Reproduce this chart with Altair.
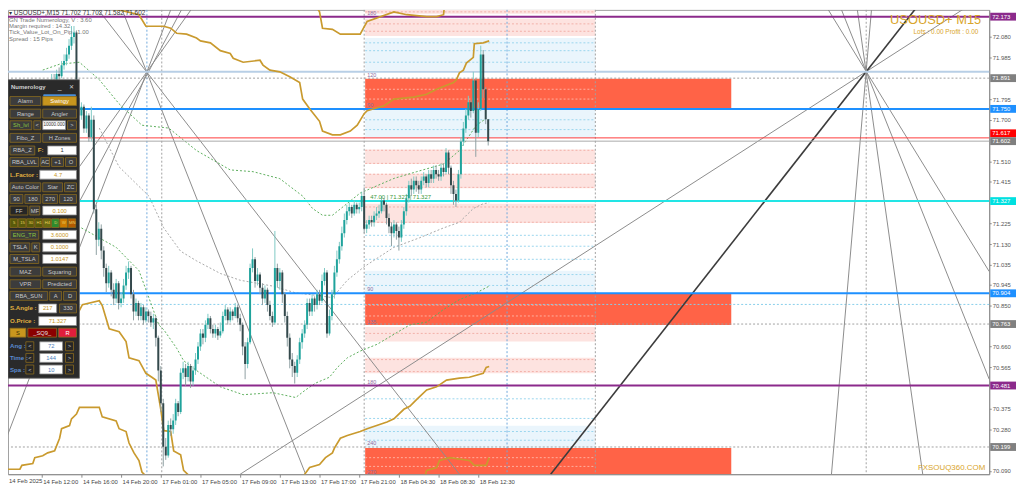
import altair as alt
import pandas as pd

# ---------------- data ----------------
FIRST_OPEN = 71.60
close = [
    71.62, 71.66, 71.64, 71.70, 71.68, 71.72, 71.75, 71.71, 71.74, 71.78,
    71.76, 71.80, 71.78, 71.82, 71.80, 71.84, 71.82, 71.85, 71.83, 71.86,
    71.88, 71.87, 71.91, 71.90, 71.95, 71.97, 72.00, 72.04, 72.08, 72.10,
    71.80, 71.72, 71.76, 71.66, 71.72, 71.62, 71.70, 71.29, 71.15, 71.20,
    71.10, 71.02, 70.95, 71.00, 70.92, 70.88, 70.95, 70.86, 70.88, 70.94,
    71.00, 71.02, 70.90, 70.82, 70.86, 70.80, 70.84, 70.78, 70.82, 70.80,
    70.77, 70.79, 70.70, 70.55, 70.40, 70.20, 70.16, 70.30, 70.28, 70.32,
    70.40, 70.36, 70.54, 70.56, 70.52, 70.57, 70.50, 70.55, 70.60, 70.66,
    70.72, 70.70, 70.76, 70.79, 70.74, 70.72, 70.74, 70.71, 70.73, 70.80,
    70.83, 70.78, 70.82, 70.80, 70.84, 70.79, 70.76, 70.66, 70.58, 70.68,
    71.02, 71.06, 70.96, 70.99, 70.93, 70.88, 70.92, 70.85, 70.80, 70.77,
    71.02, 70.96, 71.00, 70.90, 70.80, 70.70, 70.60, 70.57, 70.54, 70.60,
    70.68, 70.72, 70.76, 70.86, 70.82, 70.88, 70.85, 70.90, 70.87, 70.96,
    71.00, 70.72, 70.80, 70.90, 71.00, 71.06, 71.12, 71.18, 71.24, 71.28,
    71.30, 71.27, 71.31, 71.29, 71.30, 71.35, 71.20, 71.22, 71.24, 71.23,
    71.26, 71.27, 71.28, 71.33, 71.31, 71.25, 71.21, 71.18, 71.22, 71.19,
    71.16, 71.22, 71.28, 71.34, 71.40, 71.38, 71.42, 71.40, 71.38, 71.42,
    71.44, 71.41, 71.45, 71.43, 71.47, 71.45, 71.44, 71.48, 71.46, 71.55,
    71.48, 71.40, 71.36, 71.33, 71.45, 71.60, 71.66, 71.72, 71.78, 71.74,
    71.88, 71.64, 71.75, 72.00, 71.84, 71.702, 71.602,
]
high = [
    71.65, 71.69, 71.68, 71.72, 71.73, 71.75, 71.78, 71.77, 71.76, 71.80,
    71.80, 71.83, 71.82, 71.84, 71.84, 71.86, 71.86, 71.87, 71.87, 71.88,
    71.91, 71.91, 71.93, 71.94, 71.97, 72.00, 72.03, 72.07, 72.13, 72.13,
    72.11, 71.82, 71.78, 71.77, 71.74, 71.73, 71.76, 71.72, 71.31, 71.23,
    71.22, 71.12, 71.04, 71.03, 71.01, 70.95, 70.97, 70.96, 70.91, 70.97,
    71.03, 71.05, 71.03, 70.92, 70.88, 70.87, 70.86, 70.85, 70.84, 70.83,
    70.82, 70.81, 70.80, 70.71, 70.57, 70.42, 70.24, 70.32, 70.33, 70.35,
    70.42, 70.41, 70.56, 70.59, 70.58, 70.59, 70.58, 70.57, 70.63, 70.68,
    70.74, 70.74, 70.78, 70.81, 70.80, 70.76, 70.76, 70.75, 70.77, 70.82,
    70.85, 70.84, 70.84, 70.83, 70.86, 70.85, 70.81, 70.77, 70.68, 70.70,
    71.04, 71.11, 71.07, 71.02, 71.00, 70.95, 70.94, 70.93, 70.87, 70.82,
    71.19, 71.04, 71.02, 71.01, 70.91, 70.82, 70.72, 70.63, 70.59, 70.62,
    70.70, 70.74, 70.78, 70.88, 70.88, 70.90, 70.89, 70.92, 70.92, 70.99,
    71.02, 71.01, 70.83, 70.92, 71.03, 71.10, 71.14, 71.21, 71.27, 71.31,
    71.32, 71.31, 71.33, 71.32, 71.32, 71.37, 71.39, 71.24, 71.26, 71.26,
    71.28, 71.30, 71.31, 71.35, 71.34, 71.32, 71.27, 71.23, 71.24, 71.23,
    71.21, 71.24, 71.30, 71.36, 71.42, 71.43, 71.44, 71.44, 71.42, 71.44,
    71.46, 71.45, 71.47, 71.47, 71.49, 71.49, 71.47, 71.50, 71.50, 71.57,
    71.56, 71.49, 71.42, 71.38, 71.47, 71.62, 71.69, 71.75, 71.81, 71.79,
    71.92, 71.89, 71.78, 72.04, 72.02, 71.85, 71.702,
]
low = [
    71.57, 71.60, 71.61, 71.62, 71.65, 71.66, 71.70, 71.69, 71.69, 71.72,
    71.73, 71.75, 71.76, 71.77, 71.78, 71.79, 71.80, 71.81, 71.81, 71.82,
    71.84, 71.85, 71.85, 71.88, 71.89, 71.93, 71.95, 71.98, 72.02, 72.05,
    71.78, 71.69, 71.70, 71.64, 71.64, 71.60, 71.60, 71.27, 71.08, 71.12,
    71.06, 70.98, 70.91, 70.93, 70.89, 70.85, 70.86, 70.83, 70.84, 70.86,
    70.92, 70.97, 70.88, 70.78, 70.80, 70.78, 70.78, 70.76, 70.77, 70.77,
    70.75, 70.74, 70.66, 70.50, 70.36, 70.11, 70.14, 70.15, 70.25, 70.26,
    70.30, 70.34, 70.35, 70.51, 70.48, 70.50, 70.47, 70.48, 70.53, 70.58,
    70.64, 70.67, 70.68, 70.74, 70.72, 70.70, 70.70, 70.69, 70.70, 70.72,
    70.78, 70.76, 70.77, 70.78, 70.79, 70.77, 70.73, 70.62, 70.51, 70.56,
    70.67, 71.00, 70.93, 70.94, 70.90, 70.85, 70.86, 70.82, 70.78, 70.75,
    70.76, 70.93, 70.92, 70.86, 70.77, 70.66, 70.56, 70.52, 70.49, 70.52,
    70.58, 70.65, 70.70, 70.74, 70.80, 70.80, 70.82, 70.83, 70.85, 70.86,
    70.94, 70.70, 70.71, 70.78, 70.88, 70.98, 71.04, 71.10, 71.16, 71.22,
    71.26, 71.25, 71.26, 71.27, 71.27, 71.28, 71.18, 71.18, 71.20, 71.21,
    71.21, 71.24, 71.25, 71.27, 71.28, 71.22, 71.18, 71.12, 71.16, 71.15,
    71.10, 71.14, 71.20, 71.26, 71.32, 71.35, 71.36, 71.37, 71.36, 71.36,
    71.40, 71.39, 71.39, 71.41, 71.41, 71.43, 71.42, 71.42, 71.44, 71.45,
    71.45, 71.36, 71.31, 71.30, 71.32, 71.43, 71.58, 71.64, 71.70, 71.71,
    71.73, 71.53, 71.62, 71.74, 71.80, 71.68, 71.582,
]

time_labels = ["14 Feb 2025", "14 Feb 12:00", "14 Feb 16:00", "14 Feb 20:00",
               "17 Feb 01:00", "17 Feb 05:00", "17 Feb 09:00", "17 Feb 13:00",
               "17 Feb 17:00", "17 Feb 21:00", "18 Feb 04:30", "18 Feb 08:30",
               "18 Feb 12:30"]
# scale labels (those hidden under the price tags are left out)
price_ticks = [72.080, 71.985, 71.795, 71.700, 71.510, 71.415,
               71.225, 71.130, 71.035, 70.945, 70.850, 70.660,
               70.565, 70.375, 70.280, 70.090]

# level lines: price, colour, width
solid_levels = [(72.173, "#8B2A8B", 2), (71.920, "#B8CFE6", 2), (71.750, "#1E90FF", 2),
                (71.617, "#FF3B3B", 1), (71.602, "#A9A9A9", 1), (71.327, "#22E5E5", 2),
                (70.904, "#1E90FF", 2), (70.481, "#8B2A8B", 2)]
dotted_levels = [(71.891, "#A0A0A0"), (70.853, "#87CEEB"), (70.763, "#A0A0A0"), (70.199, "#A0A0A0")]
# right-scale price tags
tag_prices = [72.173, 71.891, 71.750, 71.617, 71.602, 71.327, 70.904, 70.763, 70.481, 70.199]
tag_colors = ["#8B2A8B", "#808080", "#1E90FF", "#FF0000", "#7F7F7F", "#00E0E0",
              "#1E90FF", "#808080", "#8B2A8B", "#808080"]

# vertical separators (bar index, colour)
vlines = [(58.4, "#6FA8DC"), (64.4, "#A0A0A0"), (146.0, "#A0A0A0"),
          (203.6, "#6FA8DC"), (239.2, "#A0A0A0"), (348.4, "#A0A0A0")]

# numerology zones: price from, price to, end bar, colour
ZONE_START = 146.4
zones = [
    (72.186, 72.250, 239.2, "#FDE3E0"), (72.084, 72.164, 239.2, "#FDE3E0"),
    (71.928, 72.075, 239.2, "#EAF5FC"), (71.751, 71.888, 294.0, "#FF6347"),
    (71.617, 71.751, 239.2, "#EAF5FC"), (71.497, 71.564, 239.2, "#FDE3E0"),
    (71.386, 71.453, 239.2, "#FDE3E0"), (71.226, 71.315, 239.2, "#FDE3E0"),
    (70.906, 71.008, 239.2, "#EAF5FC"), (70.759, 70.901, 294.0, "#FF6347"),
    (70.683, 70.750, 239.2, "#FDE3E0"), (70.537, 70.608, 239.2, "#FDE3E0"),
    (70.194, 70.297, 239.2, "#EAF5FC"), (70.074, 70.194, 294.0, "#FF6347"),
]
zone_dots = [(72.222, "#F2B0A8"), (72.195, "#F2B0A8"), (72.140, "#F2B0A8"), (72.106, "#F2B0A8"),
             (72.053, "#9AD6EE"), (72.017, "#9AD6EE"), (71.964, "#9AD6EE"),
             (71.840, "#FFB0A0"), (71.795, "#FFB0A0"),
             (71.700, "#9AD6EE"), (71.655, "#9AD6EE"),
             (71.560, "#F2B0A8"), (71.500, "#F2B0A8"), (71.450, "#F2B0A8"), (71.390, "#F2B0A8"),
             (71.300, "#F2B0A8"), (71.230, "#F2B0A8"), (71.170, "#9AD6EE"), (71.120, "#9AD6EE"),
             (71.060, "#9AD6EE"), (70.990, "#9AD6EE"), (70.940, "#9AD6EE"),
             (70.850, "#FFB0A0"), (70.800, "#FFB0A0"),
             (70.720, "#F2B0A8"), (70.600, "#F2B0A8"), (70.545, "#F2B0A8"),
             (70.420, "#9AD6EE"), (70.330, "#9AD6EE"), (70.270, "#9AD6EE"), (70.230, "#9AD6EE"),
             (70.150, "#FFB0A0"), (70.110, "#FFB0A0")]

# gold swing envelopes (bar, price)
gold_lines = {
    "A": [(124.4, 72.262), (128, 72.195), (129.2, 72.120), (133.2, 72.115), (136.4, 72.093),
          (144.4, 72.093), (147.2, 72.151), (158, 72.195), (163.2, 72.182), (171.2, 72.173),
          (175.2, 72.173), (178, 72.182), (178.4, 72.226), (182.4, 72.262)],
    "B": [(39.2, 72.262), (43.2, 72.209), (47.2, 72.204), (55.2, 72.182), (58, 72.129),
          (65.2, 72.129), (68, 72.120), (70.4, 72.097), (74.4, 72.093), (78.4, 72.075),
          (80, 72.062), (84, 72.053), (88, 72.017), (92, 72.004), (93.2, 71.982),
          (97.2, 71.964), (104, 71.973), (105.2, 71.951), (108, 71.928), (112, 71.920),
          (116, 71.897), (120, 71.871), (121.2, 71.795), (124, 71.751), (128, 71.693),
          (129.2, 71.648), (133.2, 71.631), (136.4, 71.631), (140.4, 71.648), (143.2, 71.675),
          (146, 71.728), (147.2, 71.742), (154, 71.764), (158, 71.795), (166, 71.804),
          (171.2, 71.817), (175.2, 71.840), (182, 71.871), (183.2, 71.884), (184.4, 71.915),
          (186, 71.928), (187.2, 71.960), (190, 71.986), (190.4, 72.049), (194, 72.053),
          (196.4, 72.062)],
    "C": [(-0.8, 70.097), (7.2, 70.097), (8, 70.115), (12.4, 70.123), (13.2, 70.150),
          (16.4, 70.159), (18.4, 70.172), (21.2, 70.181), (23.2, 70.239), (24, 70.283),
          (27.2, 70.297), (28, 70.328), (30, 70.350), (31.2, 70.381), (39.2, 70.381),
          (40.4, 70.337), (46, 70.319), (47.2, 70.283), (50, 70.270), (51.2, 70.217),
          (53.2, 70.172), (55.2, 70.137), (56.4, 70.084), (59.2, 70.052)],
    "D": [(30.4, 70.808), (32.4, 70.852), (39.2, 70.870), (40.4, 70.848), (43.2, 70.741),
          (47.2, 70.728), (50, 70.683), (51.2, 70.608), (55.2, 70.595), (58, 70.537),
          (60.4, 70.519), (62, 70.506), (64, 70.372), (65.2, 70.274), (68, 70.270),
          (69.2, 70.181), (72, 70.163), (73.2, 70.092), (76, 70.061)],
    "E": [(121.2, 70.061), (124, 70.105), (128, 70.119), (130.4, 70.150), (133.2, 70.172),
          (134, 70.194), (136.4, 70.239), (139.2, 70.252), (144.4, 70.270), (147.2, 70.283),
          (155.2, 70.314), (158, 70.328), (162, 70.372), (164.4, 70.386), (167.2, 70.417),
          (171.2, 70.461), (175.2, 70.475), (179.2, 70.506), (184.4, 70.515), (188.4, 70.519),
          (194, 70.537), (195.2, 70.564), (196.4, 70.568)],
    "F": [(170.4, 70.061), (171.2, 70.092), (175.2, 70.105), (176.4, 70.137), (180.4, 70.150),
          (188.4, 70.137), (190.4, 70.115), (195.2, 70.115), (196.4, 70.150)],
}

# dotted trend envelopes (bar, price)
dotted_series = {
    "up_green": ("#5DAE5D", [(16.4, 71.928), (23.2, 71.955), (31.2, 71.964), (39.2, 71.884),
                              (47.2, 71.773), (56.4, 71.675), (67.2, 71.662), (78.4, 71.559),
                              (92, 71.470), (101.2, 71.462), (112, 71.430), (116, 71.395),
                              (121.2, 71.350), (125.2, 71.293), (129.2, 71.262), (133.2, 71.262),
                              (144.4, 71.364), (158, 71.431), (167.2, 71.462), (178, 71.497),
                              (184.4, 71.559), (191.2, 71.675), (195.2, 71.706)]),
    "low_green": ("#5DAE5D", [(32, 71.204), (46, 71.115), (55.2, 71.008), (63.2, 70.759),
                               (65.2, 70.737), (70.4, 70.652), (73.2, 70.595), (78.4, 70.550),
                               (88, 70.475), (97.2, 70.439), (109.2, 70.448), (118.4, 70.426),
                               (122.4, 70.461), (126.4, 70.492), (132, 70.519), (135.2, 70.564),
                               (139.2, 70.608), (144.4, 70.639), (151.2, 70.670), (164.4, 70.759),
                               (171.2, 70.772), (178, 70.830), (184.4, 70.875), (191.2, 70.906),
                               (196.4, 70.937)]),
    "mid_gray": ("#A8A8A8", [(39.2, 71.662), (47.2, 71.484), (59.2, 71.350), (65.2, 71.204),
                              (72, 71.097), (78.4, 71.053), (88, 70.995), (96, 70.964),
                              (109.2, 70.937), (118.4, 70.906), (128, 70.893), (133.2, 70.884),
                              (139.2, 70.964), (146, 71.026), (158, 71.115), (168.4, 71.159),
                              (178, 71.204), (184.4, 71.230), (190, 71.293), (194, 71.315),
                              (196.4, 71.319)]),
}

# angle fan lines: bar1, price1, bar2, price2, colour, width
fan_lines = [
    (36.4, 72.240, 184.4, 70.074, "#8C8C8C", 1),
    (47.2, 72.240, 122.4, 70.074, "#8C8C8C", 1),
    (69.2, 72.240, -0.8, 70.164, "#8C8C8C", 1),
    (74.0, 72.240, -0.8, 70.640, "#8C8C8C", 1),
    (78.4, 72.240, -0.8, 70.973, "#8C8C8C", 1),
    (96.0, 70.074, 392.0, 72.240, "#8C8C8C", 1),
    (221.2, 70.074, 370.4, 72.240, "#3C3C3C", 1.6),
    (334.4, 70.074, 350.8, 72.240, "#8C8C8C", 1),
    (331.2, 72.240, 398.0, 71.004, "#8C8C8C", 1),
    (337.2, 72.240, 398.0, 70.510, "#8C8C8C", 1),
    (344.4, 72.240, 371.2, 70.074, "#8C8C8C", 1),
]

zone_labels = [("180", 11), ("120", 75), ("90", 106), ("90", 296), ("135", 330),
               ("180", 392), ("240", 455), ("270", 485)]

# ---------------- scales ----------------
FONT = "Liberation Sans"
W, H = 989, 468
XS = alt.Scale(domain=[2.4, 398.0], nice=False, zero=False)
YS = alt.Scale(domain=[70.0742, 72.2041], nice=False, zero=False)
PXS = alt.Scale(domain=[8, 997], nice=False, zero=False)
PYS = alt.Scale(domain=[8, 487], reverse=True, nice=False, zero=False)


def dx(f):
    return alt.X(f, type="quantitative", scale=XS, axis=None)


def dy(f):
    return alt.Y(f, type="quantitative", scale=YS, axis=None)


def px(f):
    return alt.X(f, type="quantitative", scale=PXS, axis=None)


def py(f):
    return alt.Y(f, type="quantitative", scale=PYS, axis=None)


layers = []

# zones
zdf = pd.DataFrame([{"b1": ZONE_START, "b2": z[2], "p1": z[0], "p2": z[1], "c": z[3]} for z in zones])
layers.append(alt.Chart(zdf).mark_rect(clip=True).encode(
    x=dx("b1"), x2="b2", y=dy("p1"), y2="p2", color=alt.Color("c:N", scale=None)))
zddf = pd.DataFrame([{"b1": ZONE_START, "b2": 239.2, "p": p, "c": c} for p, c in zone_dots])
layers.append(alt.Chart(zddf).mark_rule(strokeDash=[2, 2], strokeWidth=1, clip=True).encode(
    x=dx("b1"), x2="b2", y=dy("p"), color=alt.Color("c:N", scale=None)))

# vertical separators
vdf = pd.DataFrame([{"b": b, "c": c} for b, c in vlines])
layers.append(alt.Chart(vdf).mark_rule(strokeDash=[2, 2], strokeWidth=1).encode(
    x=dx("b"), color=alt.Color("c:N", scale=None)))

# dotted levels
dldf = pd.DataFrame([{"p": p, "c": c} for p, c in dotted_levels])
layers.append(alt.Chart(dldf).mark_rule(strokeDash=[2, 2], strokeWidth=1).encode(
    y=dy("p"), color=alt.Color("c:N", scale=None)))

# fan lines
fdf = pd.DataFrame([{"b1": f[0], "p1": f[1], "b2": f[2], "p2": f[3], "c": f[4], "w": f[5]} for f in fan_lines])
layers.append(alt.Chart(fdf).mark_rule(clip=True).encode(
    x=dx("b1"), y=dy("p1"), x2="b2", y2="p2",
    color=alt.Color("c:N", scale=None), strokeWidth=alt.StrokeWidth("w:Q", scale=None)))

# dotted envelopes
rows = []
for name, (col, pts) in dotted_series.items():
    for i, (b, p) in enumerate(pts):
        rows.append({"id": name, "o": i, "b": b, "p": p, "c": col})
layers.append(alt.Chart(pd.DataFrame(rows)).mark_line(strokeDash=[2, 2], strokeWidth=1, clip=True).encode(
    x=dx("b"), y=dy("p"), detail="id:N", order="o:Q", color=alt.Color("c:N", scale=None)))

# solid levels
sldf = pd.DataFrame([{"p": p, "c": c, "w": w} for p, c, w in solid_levels])
layers.append(alt.Chart(sldf).mark_rule().encode(
    y=dy("p"), color=alt.Color("c:N", scale=None), strokeWidth=alt.StrokeWidth("w:Q", scale=None)))

# gold lines
rows = []
for name, pts in gold_lines.items():
    for i, (b, p) in enumerate(pts):
        rows.append({"id": name, "o": i, "b": b, "p": p})
layers.append(alt.Chart(pd.DataFrame(rows)).mark_line(color="#C99A2E", strokeWidth=1.7, clip=True).encode(
    x=dx("b"), y=dy("p"), detail="id:N", order="o:Q"))

# candles
opens = [FIRST_OPEN] + close[:-1]
cdf = pd.DataFrame({"bar": list(range(len(close))), "o": opens, "h": high, "l": low, "c": close})
cdf["body"] = ["#1FA39C" if c >= o else "#34494C" for o, c in zip(cdf["o"], cdf["c"])]
cdf["wick"] = ["#7FC9C4" if c >= o else "#8FA0A2" for o, c in zip(cdf["o"], cdf["c"])]
xaxis = alt.Axis(values=[16 * k for k in range(1, len(time_labels))],
                 labelExpr="[" + ",".join("'%s'" % s for s in time_labels) + "][round(datum.value/16)]",
                 labelAlign="left", labelOffset=1, labelPadding=1, tickSize=3, labelFlush=False,
                 labelFontSize=6, labelColor="#444444", domainColor="#8A8A8A", tickColor="#8A8A8A",
                 grid=False, title=None, labelOverlap=False)
yaxis = alt.Axis(orient="right", values=price_ticks, format=".3f", tickSize=2, labelPadding=1,
                 labelFontSize=6, labelColor="#555555", domainColor="#8A8A8A", tickColor="#8A8A8A",
                 grid=False, title=None, labelOverlap=False, labelFlush=False)
layers.append(alt.Chart(cdf).mark_rule(strokeWidth=1, clip=True).encode(
    x=alt.X("bar:Q", scale=XS, axis=xaxis), y=alt.Y("l:Q", scale=YS, axis=yaxis), y2="h",
    color=alt.Color("wick:N", scale=None)))
layers.append(alt.Chart(cdf).mark_rule(strokeWidth=2, clip=True).encode(
    x=dx("bar"), y=dy("o"), y2="c", color=alt.Color("body:N", scale=None)))

# right scale price tags (a tag that would collide with the one below is stacked above it)
HALF = 0.018
centres = []
for i, p in enumerate(tag_prices):
    c = p
    if i + 1 < len(tag_prices) and p - tag_prices[i + 1] < 2 * HALF:
        c = tag_prices[i + 1] + 2 * HALF
    centres.append(c)
tdf = pd.DataFrame({"pc": centres, "c": tag_colors, "t": ["%.3f" % p for p in tag_prices]})
tdf["p1"] = tdf["pc"] + HALF
tdf["p2"] = tdf["pc"] - HALF
tdf["x1"] = 998
tdf["x2"] = 1024
tdf["xt"] = 1000
layers.append(alt.Chart(tdf).mark_rect().encode(
    x=px("x1"), x2="x2", y=dy("p1"), y2="p2", color=alt.Color("c:N", scale=None)))
layers.append(alt.Chart(tdf).mark_text(align="left", baseline="middle", font=FONT, fontSize=6, color="white").encode(
    x=px("xt"), y=dy("pc"), text="t:N"))


def text_layer(df, align, weight="normal"):
    return alt.Chart(df).mark_text(align=align, baseline="middle", font=FONT, fontWeight=weight).encode(
        x=px("x"), y=py("y"), text="t:N", color=alt.Color("c:N", scale=None),
        size=alt.Size("s:Q", scale=None))


# chart texts
info = pd.DataFrame([
    {"x": 9, "y": 11, "t": "\u25be USOUSD+,M15  71.702 71.702 71.582 71.602", "c": "#333333", "s": 6.5},
    {"x": 9, "y": 18, "t": "GN Trade Numerology, V : 3.60", "c": "#777777", "s": 6},
    {"x": 9, "y": 24.5, "t": "Margin required : 14.32", "c": "#777777", "s": 6},
    {"x": 9, "y": 31, "t": "Tick_Value_Lot_On_Pip : 1.00", "c": "#777777", "s": 6},
    {"x": 9, "y": 38, "t": "Spread : 15  Pips", "c": "#777777", "s": 6},
    {"x": 9, "y": 494, "t": time_labels[0], "c": "#444444", "s": 6},
])
layers.append(text_layer(info, "left"))
zl = pd.DataFrame([{"x": 370, "y": y, "t": t, "c": "#8E6E9E", "s": 5.5} for t, y in zone_labels]
                  + [{"x": 373, "y": 201, "t": "47.00  |  71.327  |  71.327", "c": "#3C9A3C", "s": 6}])
layers.append(text_layer(zl, "left"))
rt = pd.DataFrame([
    {"x": 989, "y": 18, "t": "USOUSD+ M15", "c": "#D9A52B", "s": 13},
    {"x": 986, "y": 31, "t": "Lots : 0.00 Profit : 0.00", "c": "#D9A52B", "s": 6.5},
    {"x": 993, "y": 481, "t": "FXSOUQ360.COM", "c": "#D9A52B", "s": 8},
])
layers.append(text_layer(rt, "right"))

# ---------------- control panel ----------------
STY = {
    "btn": ("#3C3C3C", "#8B6B1E", "#C8C8C8"),
    "btng": ("#3C3C3C", "#8B6B1E", "#8CC63F"),
    "gold": ("#C8961E", "#8B6B1E", "#FFFFFF"),
    "gold2": ("#C8961E", "#8B6B1E", "#3A2A00"),
    "input": ("#FFFFFF", "#8A8A8A", "#333333"),
    "inputg": ("#FFFFFF", "#8A8A8A", "#C8961E"),
    "inputb": ("#FFFFFF", "#8A8A8A", "#4F81BD"),
    "dark": ("#262626", "#8B6B1E", "#C8C8C8"),
    "dred": ("#8B0000", "#8B6B1E", "#E0E0E0"),
    "red": ("#E01E3C", "#8B6B1E", "#FFFFFF"),
    "lab": (None, None, "#E0B040"),
    "labb": (None, None, "#5B8BD0"),
}
panel_rows = [
    (102, [(10, 41, "Alarm", "btn"), (43, 77, "Swingy", "gold")]),
    (115, [(10, 41, "Range", "btn"), (43, 77, "Angler", "btn")]),
    (127, [(10, 32, "Sh_lvl", "btng"), (34, 41, "<", "btn"), (43, 66, "10000.000", "input"), (68, 77, ">", "btn")]),
    (140, [(10, 41, "Fibo_Z", "btn"), (43, 77, "H Zones", "btn")]),
    (153, [(10, 35, "RBA_Z", "btn"), (38, 45, "F:", "lab"), (48, 77, "1", "input")]),
    (165, [(10, 39, "RBA_LVL", "btn"), (41, 50, "AC", "btn"), (52, 64, "+1", "btn"), (66, 77, "O", "btn")]),
    (178, [(10, 38, "L.Factor :", "lab"), (40, 77, "4.7", "inputg")]),
    (191, [(10, 41, "Auto Color", "btn"), (43, 63, "Star", "btn"), (65, 77, "ZC", "btn")]),
    (203, [(10, 23, "90", "btn"), (25, 41, "180", "btn"), (43, 58, "270", "btn"), (60, 77, "120", "btn")]),
    (215, [(10, 28, "FF", "dark"), (30, 40, "MF", "btn"), (43, 77, "0.100", "inputg")]),
    (240, [(10, 39, "ENG_TR", "btng"), (43, 77, "3.6000", "inputg")]),
    (253, [(10, 30, "TSLA", "btn"), (32, 40, "K", "btn"), (43, 77, "0.1000", "inputg")]),
    (265, [(10, 39, "M_TSLA", "btn"), (43, 77, "1.0147", "inputg")]),
    (278, [(10, 41, "MAZ", "btn"), (43, 77, "Squaring", "btn")]),
    (291, [(10, 41, "VPR", "btn"), (43, 77, "Predicted", "btn")]),
    (303, [(10, 48, "RBA_SUN", "btn"), (50, 62, "A", "btn"), (64, 77, "D", "btn")]),
    (316, [(10, 37, "S.Angle :", "lab"), (39, 57, "217", "inputg"), (60, 77, "330", "btn")]),
    (329, [(10, 37, "O.Price :", "lab"), (39, 77, "71.327", "inputg")]),
    (341, [(10, 26, "S", "gold2"), (28, 57, "_SQ9_", "dred"), (59, 77, "R", "red")]),
    (355, [(10, 24, "Ang :", "labb"), (26, 34, "<", "dark"), (40, 63, "72", "inputb"), (66, 74, ">", "dark")]),
    (367, [(10, 24, "Time :", "labb"), (26, 34, "<", "dark"), (40, 63, "144", "inputb"), (66, 74, ">", "dark")]),
    (379, [(10, 24, "Spa :", "labb"), (26, 34, "<", "dark"), (40, 63, "10", "inputb"), (66, 74, ">", "dark")]),
]
tf_labels = ["5", "15", "30", "H1", "H4", "D", "W", "MN"]
tf_colors = ["#5A5A0A", "#5A5A0A", "#5A5A0A", "#5A5A0A", "#6B6B10", "#2E8B2E", "#CC7A00", "#B35900"]

rects = [{"x1": 8, "x2": 80, "y1": 80, "y2": 388, "f": "#2A2A2A", "s": "#6E6E6E"},
         {"x1": 44, "x2": 76, "y1": 95.5, "y2": 97, "f": "#4A90D9", "s": "#4A90D9"}]
ptxt_c, ptxt_l = [], []
ptxt_c.append({"x": 60, "y": 88, "t": "_", "c": "#D0D0D0", "s": 7})
ptxt_c.append({"x": 72, "y": 88, "t": "\u2715", "c": "#D0D0D0", "s": 6})
ptxt_l.append({"x": 11, "y": 88, "t": "Numerology", "c": "#D0D0D0", "s": 6})
for yc, items in panel_rows:
    for x1, x2, lab, st in items:
        f, s, tc = STY[st]
        if f is None:
            ptxt_l.append({"x": x1, "y": yc, "t": lab, "c": tc, "s": 6.2})
        else:
            rects.append({"x1": x1, "x2": x2, "y1": yc - 4.6, "y2": yc + 4.6, "f": f, "s": s})
            ptxt_c.append({"x": (x1 + x2) / 2, "y": yc, "t": lab, "c": tc,
                           "s": 4.6 if lab == "10000.000" else 5.8})
step = 67 / len(tf_labels)
for i, (lab, col) in enumerate(zip(tf_labels, tf_colors)):
    x1 = 10 + i * step
    rects.append({"x1": x1, "x2": x1 + step - 0.8, "y1": 223.5, "y2": 232.5, "f": col, "s": "#8B6B1E"})
    ptxt_c.append({"x": x1 + step / 2, "y": 228, "t": lab, "c": "#E8D060", "s": 4.2})

prdf = pd.DataFrame(rects)
layers.append(alt.Chart(prdf).mark_rect(strokeWidth=0.8).encode(
    x=px("x1"), x2="x2", y=py("y1"), y2="y2",
    color=alt.Color("f:N", scale=None), stroke=alt.Stroke("s:N", scale=None)))
layers.append(text_layer(pd.DataFrame(ptxt_c), "center"))
layers.append(text_layer(pd.DataFrame(ptxt_l), "left", "bold"))

chart = alt.layer(*layers).resolve_scale(
    x="independent", y="independent"
).properties(
    width=W, height=H,
    autosize=alt.AutoSizeParams(type="none"),
    padding={"left": 0, "top": 0, "right": 27, "bottom": 12},
    background="white",
).configure_view(stroke="#A0A0A0", strokeWidth=1).configure_axis(labelFont=FONT)

chart.save("out.html", embed_options={"renderer": "svg", "actions": False})
